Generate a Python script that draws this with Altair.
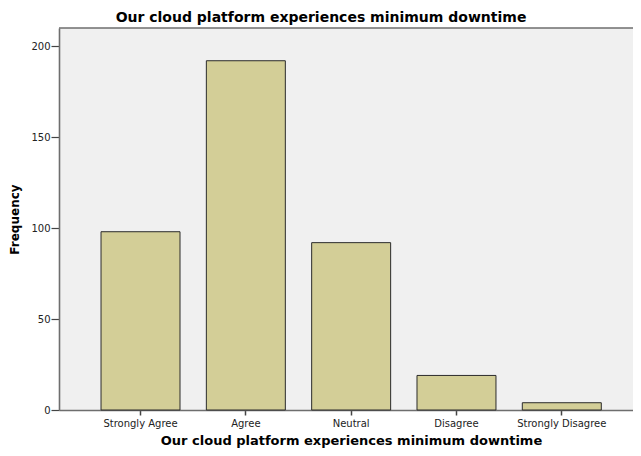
import altair as alt
import pandas as pd

categories = ["Strongly Agree", "Agree", "Neutral", "Disagree", "Strongly Disagree"]
frequencies = [98, 192, 92, 19, 4]
y_ticks = [0, 50, 100, 150, 200]

df = pd.DataFrame({"category": categories, "frequency": frequencies})

W = 574
H = 382
title_text = "Our cloud platform experiences minimum downtime"
FONT = "DejaVu Sans"

bars = alt.Chart(df).mark_bar(
    fill="#D3CE97", stroke="#2b2b2b", strokeWidth=1
).encode(
    x=alt.X(
        "category:N",
        sort=categories,
        scale=alt.Scale(paddingInner=0.25, paddingOuter=0.35, align=0.57),
        axis=alt.Axis(
            title=title_text,
            labelAngle=0,
            tickSize=5,
            labelPadding=3,
            titlePadding=6,
            titleX=292,
            titleFontSize=13,
            titleFontWeight="bold",
            titleFont=FONT,
            titleColor="#000000",
            labelFont=FONT,
            labelFontSize=10,
            labelColor="#222222",
            domainColor="#6e6e6e",
            domainWidth=1.6,
            tickColor="#444444",
            tickWidth=1.5,
        ),
    ),
    y=alt.Y(
        "frequency:Q",
        scale=alt.Scale(domain=[0, 210], nice=False),
        axis=alt.Axis(
            title="Frequency",
            values=y_ticks,
            grid=False,
            tickSize=8,
            labelPadding=1,
            titleX=-38,
            titleY=H / 2,
            titleFontSize=12,
            titleFontWeight="bold",
            titleFont=FONT,
            titleColor="#000000",
            labelFont=FONT,
            labelFontSize=10,
            labelColor="#222222",
            domainColor="#6e6e6e",
            domainWidth=1.6,
            tickColor="#444444",
            tickWidth=1.2,
        ),
    ),
)

top_border = alt.Chart(pd.DataFrame({"k": [0]})).mark_rule(
    color="#6e6e6e", strokeWidth=1.6
).encode(x=alt.value(0), x2=alt.value(W), y=alt.value(0))

chart = alt.layer(bars, top_border).properties(
    width=W,
    height=H,
    title=alt.TitleParams(
        text=title_text,
        font=FONT,
        fontSize=14,
        fontWeight="bold",
        color="#000000",
        anchor="middle",
        baseline="bottom",
        offset=4,
        dx=-25,
        dy=16,
    ),
    autosize=alt.AutoSizeParams(type="none"),
    padding={"left": 51, "top": 20, "right": 0, "bottom": 38},
).configure_view(
    fill="#F0F0F0", stroke=None
)

chart.save("out.html", embed_options={"renderer": "svg", "actions": False})
